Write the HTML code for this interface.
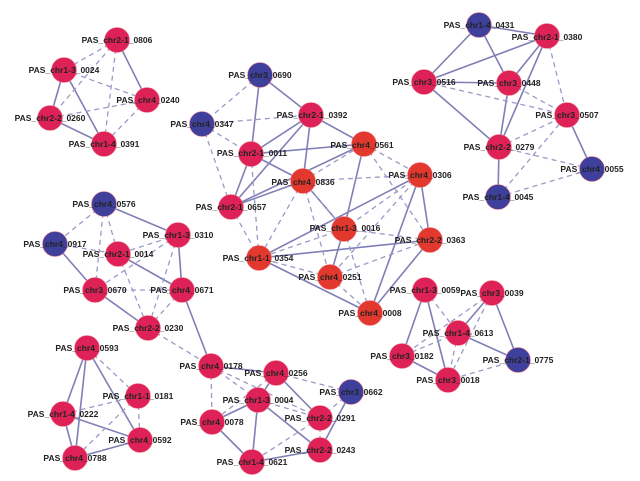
<!DOCTYPE html>
<html><head><meta charset="utf-8"><style>
html,body{margin:0;padding:0;background:#fff;}
svg{display:block;}
text{font-family:"Liberation Sans",sans-serif;font-size:8.5px;font-weight:bold;fill:#222;text-anchor:middle;}
</style></head><body>
<svg id="s" width="640" height="481" viewBox="0 0 640 481">
<g id="edges"></g><g id="nodes"></g>
<g id="labels">
<text x="117" y="43">PAS_chr2-1_0806</text>
<text x="64" y="73">PAS_chr1-3_0024</text>
<text x="50" y="121">PAS_chr2-2_0260</text>
<text x="148" y="103">PAS_chr4_0240</text>
<text x="104" y="147">PAS_chr1-4_0391</text>
<text x="260" y="78">PAS_chr3_0690</text>
<text x="202" y="127">PAS_chr4_0347</text>
<text x="312" y="118">PAS_chr2-1_0392</text>
<text x="252" y="156">PAS_chr2-1_0011</text>
<text x="303" y="185">PAS_chr4_0836</text>
<text x="231" y="210">PAS_chr2-1_0657</text>
<text x="362" y="148">PAS_chr4_0561</text>
<text x="420" y="178">PAS_chr4_0306</text>
<text x="345" y="231">PAS_chr1-3_0016</text>
<text x="430" y="243">PAS_chr2-2_0363</text>
<text x="258" y="261">PAS_chr1-1_0354</text>
<text x="330" y="280">PAS_chr4_0251</text>
<text x="370" y="316">PAS_chr4_0008</text>
<text x="479" y="28">PAS_chr1-4_0431</text>
<text x="547" y="40">PAS_chr2-1_0380</text>
<text x="424" y="85">PAS_chr3_0516</text>
<text x="509" y="86">PAS_chr3_0448</text>
<text x="567" y="118">PAS_chr3_0507</text>
<text x="499" y="150">PAS_chr2-2_0279</text>
<text x="592" y="172">PAS_chr4_0055</text>
<text x="498" y="200">PAS_chr1-4_0045</text>
<text x="104" y="207">PAS_chr4_0576</text>
<text x="55" y="247">PAS_chr4_0917</text>
<text x="178" y="238">PAS_chr1-3_0310</text>
<text x="118" y="257">PAS_chr2-1_0014</text>
<text x="95" y="293">PAS_chr3_0670</text>
<text x="182" y="293">PAS_chr4_0671</text>
<text x="148" y="331">PAS_chr2-2_0230</text>
<text x="87" y="351">PAS_chr4_0593</text>
<text x="138" y="399">PAS_chr1-1_0181</text>
<text x="63" y="417">PAS_chr1-4_0222</text>
<text x="140" y="443">PAS_chr4_0592</text>
<text x="75" y="461">PAS_chr4_0788</text>
<text x="211" y="369">PAS_chr4_0178</text>
<text x="276" y="376">PAS_chr4_0256</text>
<text x="351" y="395">PAS_chr3_0662</text>
<text x="258" y="403">PAS_chr1-3_0004</text>
<text x="212" y="425">PAS_chr4_0078</text>
<text x="320" y="421">PAS_chr2-2_0291</text>
<text x="320" y="453">PAS_chr2-2_0243</text>
<text x="252" y="465">PAS_chr1-4_0621</text>
<text x="425" y="293">PAS_chr1-3_0059</text>
<text x="492" y="296">PAS_chr3_0039</text>
<text x="458" y="336">PAS_chr1-4_0613</text>
<text x="402" y="359">PAS_chr3_0182</text>
<text x="448" y="383">PAS_chr3_0018</text>
<text x="518" y="363">PAS_chr2-1_0775</text>
</g>
</svg>
<script>
var N={
A1:[117,40,'p'],A2:[64,70,'p'],A3:[50,118,'p'],A4:[147,100,'p'],A5:[104,144,'p'],
B1:[260,75,'b'],B2:[202,124,'b'],B3:[311,115,'p'],B4:[251,154,'p'],B5:[303,181,'r'],B6:[231,207,'p'],B7:[364,144,'r'],B8:[420,175,'r'],B9:[344,229,'r'],B10:[430,240,'r'],B11:[259,258,'r'],B12:[330,277,'r'],B13:[370,313,'r'],
C1:[479,25,'b'],C2:[547,36,'p'],C3:[424,82,'p'],C4:[509,83,'p'],C5:[567,115,'p'],C6:[499,147,'p'],C7:[592,169,'b'],C8:[498,197,'b'],
D1:[104,204,'b'],D2:[55,244,'b'],D3:[178,235,'p'],D4:[118,254,'p'],D5:[95,290,'p'],D6:[182,290,'p'],D7:[148,328,'p'],
E1:[87,348,'p'],E2:[138,396,'p'],E3:[63,414,'p'],E4:[140,440,'p'],E5:[75,458,'p'],
F1:[211,366,'p'],F2:[276,373,'p'],F3:[351,392,'b'],F4:[258,400,'p'],F5:[212,422,'p'],F6:[320,418,'p'],F7:[320,450,'p'],F8:[252,462,'p'],
G1:[425,290,'p'],G2:[492,293,'p'],G3:[458,333,'p'],G4:[402,356,'p'],G5:[448,380,'p'],G6:[518,360,'b']};
var S="A1-A4 A2-A3 A2-A5 A3-A5 C1-C2 C1-C3 C1-C4 C2-C3 C2-C4 C2-C6 C3-C4 C3-C6 C4-C6 C5-C7 C6-C8 B1-B4 B1-B3 B4-B3 B4-B7 B3-B6 B3-B5 B3-B7 B4-B6 B4-B5 B6-B7 B6-B5 B5-B9 B7-B9 B11-B8 B11-B10 B11-B13 B8-B13 B8-B10 B10-B13 B9-B12 D2-D5 D1-D3 D3-D6 D4-D6 D5-D7 D6-F1 E1-E3 E1-E5 E1-E4 E3-E5 E3-E4 E5-E4 F1-F2 F4-F2 F4-F5 F4-F8 F4-F7 F5-F8 F2-F6 F3-F7 F8-F7 G1-G4 G1-G5 G2-G3 G2-G6 G3-G6 G4-G5";
var D="A1-A2 A1-A3 A1-A5 A2-A4 A3-A4 A4-A5 C2-C5 C3-C5 C4-C5 C6-C5 C6-C7 C8-C5 C8-C7 B1-B2 B2-B3 B2-B4 B2-B6 B4-B11 B5-B7 B5-B8 B5-B9 B7-B8 B7-B10 B8-B9 B8-B12 B9-B10 B9-B13 B12-B11 B12-B10 B12-B13 B6-B11 B9-B11 B5-B12 B5-B11 D1-D2 D1-D4 D1-D5 D3-D4 D3-D5 D4-D7 D5-D6 D6-D7 D3-D7 D2-D4 D7-F1 E1-E2 E2-E3 E2-E4 E2-E5 F1-F5 F1-F4 F1-F6 F2-F5 F3-F6 F4-F6 F6-F8 F6-F7 F2-F3 G1-G3 G2-G4 G3-G4 G3-G5 G2-G5 G6-G5";
var ns="http://www.w3.org/2000/svg",eg=document.getElementById('edges'),ng=document.getElementById('nodes');
function add(list,dash){list.split(' ').forEach(function(e){var p=e.split('-'),a=N[p[0]],b=N[p[1]];var l=document.createElementNS(ns,'line');l.setAttribute('x1',a[0]);l.setAttribute('y1',a[1]);l.setAttribute('x2',b[0]);l.setAttribute('y2',b[1]);l.setAttribute('stroke',dash?'#9a9ac8':'#7f7fb6');l.setAttribute('stroke-width',dash?1.3:1.6);if(dash)l.setAttribute('stroke-dasharray','5,4');eg.appendChild(l);});}
add(S,0);add(D,1);
var col={p:'#de2257',r:'#e2382e',b:'#3f3f9c'};
for(var k in N){var n=N[k],c=document.createElementNS(ns,'circle');c.setAttribute('cx',n[0]);c.setAttribute('cy',n[1]);c.setAttribute('r',12.5);c.setAttribute('fill',col[n[2]]);c.setAttribute('stroke','#f08090');c.setAttribute('stroke-width',0.6);ng.appendChild(c);}
</script>
</body></html>
